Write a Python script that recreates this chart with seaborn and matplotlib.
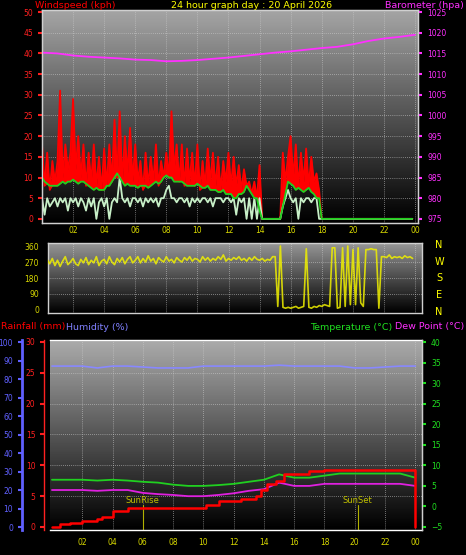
import numpy as np
import pandas as pd
import matplotlib
matplotlib.use("Agg")
import matplotlib.pyplot as plt
import seaborn as sns
from matplotlib.colors import LinearSegmentedColormap

sns.set_style("dark")
plt.rcParams['font.family'] = ['DejaVu Sans']

# ---------------- data ----------------
gust = [18,8,16,7,14,9, 14,31,10,18,12,16, 29,12,20,10,18,8, 16,9,18,8,15,7,
        17,8,18,9,24,10, 26,9,20,11,22,9, 18,9,14,7,16,8, 15,9,18,8,14,10,
        16,10,26,12,18,9, 18,8,17,9,16,8, 18,7,14,8,17,9, 16,8,15,7,14,9,
        16,8,15,8,13,7, 12,8,9,6,9,5, 13,0,0,0,0,0, 0,0,0,16,9,15,
        20,10,18,8,16,9, 17,8,15,9,11,7] + [0]*36
avg = [10,9,8.5,8,8,8, 8,8.5,9,8.5,9,9, 9.5,9,8.5,9,9,8.5, 8,7.5,7,7.5,7,7,
       7,8,8,9,10,11, 10,9,8,8.5,8,8, 8,7.5,8,8,8,7.5, 8,8.5,9,8.5,9,10,
       10.5,10,10,9,9,9, 9,8.5,8,8,8,8, 8.5,8,7.5,7.5,8,7, 7,7,6.5,6.5,7,6,
       6,6,5,5,6,6, 6.5,8,7,6,5,5, 2,0,0,0,0,0, 0,0,0,3,6,9,
       8.5,8,7,7.5,7,6.5, 7,7.5,6.5,6,5,5] + [0]*36
lull = [5,1,5,3,4,5, 3,5,4,5,2,5, 4,5,3,5,4,2, 5,3,5,0,4,5, 3,5,0,4,5,4,
        10,5,4,5,3,5, 5,4,5,3,5,4, 5,4,5,3,5,5, 7,8,5,5,4,5, 5,4,5,3,5,4,
        5,4,5,5,4,5, 3,5,5,5,4,5, 5,4,5,1,5,4, 5,0,5,0,5,0, 5,0,0,0,0,0,
        0,0,0,3,5,7, 5,4,5,0,5,4, 5,5,4,5,5,0] + [0]*36
wind_dir = [270,255,285,260,290,250, 280,245,275,300,255,270, 290,260,250,285,265,295,
            255,280,265,300,250,275, 285,260,300,270,255,290, 270,295,260,285,300,265,
            280,300,265,290,270,305, 275,290,260,295,280,270, 300,275,285,265,295,280,
            270,295,280,300,275,290, 285,270,300,280,295,275, 290,280,300,285,310,275,
            290,280,295,285,300,280, 290,275,295,280,300,285, 280,290,275,285,280,300,
            300,20,360,15,10,15, 10,15,20,10,15,20, 345,15,10,20,15,25,
            20,30,25,20,350,350, 10,15,350,20,360,30, 340,30,350,40,20,340,
            340,345,340,340,10,300, 300,295,310,290,300,295, 300,290,305,295,300,290]
hours_h = list(range(25))
pressure = [1015.2,1015,1014.5,1014.2,1014,1013.8,1013.5,1013.4,1013.1,1013.2,1013.4,
            1013.7,1014,1014.4,1014.8,1015.2,1015.5,1015.9,1016.3,1016.6,1017.2,
            1018,1018.6,1019,1019.5]
humidity = [87,87,87,86,87,87,86.5,86,86,86,87,87,87,87,87,87.5,87,87,87,87,86,86,86.5,87,87]
temperature = [6.5,6.5,6.5,6.3,6.5,6.3,6,5.8,5.3,5,5,5.2,5.5,6,6.5,7.8,7,7,7.5,8,8,8,8,8,7]
dewpoint = [4,4,4,3.8,4,4,3.3,3,2.8,2.5,2.5,2.8,3.2,3.8,4.2,5.8,5,5,5.5,5.5,5.5,5.5,5.5,5.5,5]
rain_t = [0,0.5,1.2,2,3,3.3,4,5,9.5,10.2,11,12.5,13.5,13.8,14.2,14.8,15.3,17,18,23.9,24]
rain = [0,0.4,0.7,1,1.3,1.6,2.5,3,3,3.5,4.2,4.5,5,6,7,7.5,8.5,9,9.2,9.2,0]
hour_ticks = [2,4,6,8,10,12,14,16,18,20,22,24]
hour_labels = ["02","04","06","08","10","12","14","16","18","20","22","00"]
sunrise, sunset = 6.0, 20.2

t10 = np.arange(144) / 6.0
df10 = pd.DataFrame({"t": t10, "gust": gust, "avg": avg, "lull": lull, "dir": wind_dir})
dfh = pd.DataFrame({"t": hours_h, "p": pressure, "hum": humidity, "temp": temperature, "dew": dewpoint})
dfr = pd.DataFrame({"t": rain_t, "rain": rain})

W, H = 466, 555
fig = plt.figure(figsize=(W/100, H/100), dpi=100, facecolor="black")

def add_ax(x0, y0, x1, y1):
    return fig.add_axes([x0/W, 1 - y1/H, (x1-x0)/W, (y1-y0)/H])

cmap = LinearSegmentedColormap.from_list("g", ["#000000", "#c8c8c8"])
YEL = "#d8d800"
FS = 6.8

def style(ax, xlim, ylim, top=0.85):
    ax.set_xlim(*xlim); ax.set_ylim(*ylim)
    grad = np.linspace(0, top, 100).reshape(-1, 1)
    ax.imshow(grad, cmap=cmap, vmin=0, vmax=1, origin="lower", aspect="auto",
              extent=[xlim[0], xlim[1], ylim[0], ylim[1]], zorder=0)
    ax.set_facecolor("black")
    for s in ax.spines.values():
        s.set_color("#d0d0d0"); s.set_linewidth(1)
    ax.set_xlabel(""); ax.set_ylabel("")

def vgrid(ax, yvals):
    for h in hour_ticks:
        ax.axvline(h, color="#d0d0d0", lw=0.5, ls=(0, (1, 2)), zorder=1)
    for y in yvals:
        ax.axhline(y, color="#d0d0d0", lw=0.5, ls=(0, (1, 2)), zorder=1)

# ---------- panel 1: wind speed + barometer ----------
ax1 = add_ax(42, 10, 418, 223)
style(ax1, (0, 24.2), (-1, 50.5), top=0.82)
vgrid(ax1, range(5, 50, 5))
g = np.array(gust, float); a = np.array(avg, float)
ax1.fill_between(t10, np.minimum(a, g), g, color="#ff0000", lw=0, zorder=2)
sns.lineplot(data=df10, x="t", y="gust", ax=ax1, color="#ff0000", lw=1.3, zorder=3)
sns.lineplot(data=df10, x="t", y="lull", ax=ax1, color="#c8f0c8", lw=1.3, zorder=4)
sns.lineplot(data=df10, x="t", y="avg", ax=ax1, color="#20d020", lw=1.3, zorder=5)
ax1.set_xlabel(""); ax1.set_ylabel("")
ax1.set_yticks(range(0, 51, 5))
ax1.tick_params(axis="y", colors="#ff2020", labelsize=5.5, length=3, width=1.5)
ax1.set_xticks(hour_ticks); ax1.set_xticklabels([])
ax1.tick_params(axis="x", colors="#d0d0d0", length=2)
ax1b = ax1.twinx()
ax1b.set_ylim(974, 1025.5)
sns.lineplot(data=dfh, x="t", y="p", ax=ax1b, color="#ff30ff", lw=1.3)
ax1b.set_xlim(0, 24.2)
ax1b.set_xlabel(""); ax1b.set_ylabel("")
ax1b.set_yticks(range(975, 1026, 5))
ax1b.tick_params(axis="y", colors="#ff30ff", labelsize=5.5, length=3, width=1.5)
for s in ax1b.spines.values():
    s.set_color("#d0d0d0")

fig.text(35/W, 1 - 5/H, "Windspeed (kph)", color="#ff0000", fontsize=FS, va="center")
fig.text(252/W, 1 - 5/H, "24 hour graph day : 20 April 2026", color="#ffff00", fontsize=FS, va="center", ha="center")
fig.text(464/W, 1 - 5/H, "Barometer (hpa)", color="#ff30ff", fontsize=FS, va="center", ha="right")

# ---------- panel 2: wind direction ----------
ax2 = add_ax(48, 243, 422, 313)
style(ax2, (0.39, 24.44), (-17, 377), top=0.75)
vgrid(ax2, [90, 180, 270])
sns.lineplot(data=df10, x="t", y="dir", ax=ax2, color="#f0f000", lw=1.2, alpha=0.85, zorder=3)
ax2.set_xlabel(""); ax2.set_ylabel("")
ax2.set_yticks([0, 90, 180, 270, 360])
ax2.tick_params(axis="y", colors=YEL, labelsize=5.5, length=3, width=1.5)
ax2.xaxis.tick_top()
ax2.set_xticks(hour_ticks); ax2.set_xticklabels(hour_labels)
ax2.tick_params(axis="x", colors=YEL, labelsize=5.5, length=0, pad=6)
for lbl, yp in zip(["N", "W", "S", "E", "N"], [245, 262, 278, 295, 312]):
    fig.text(439/W, 1 - yp/H, lbl, color="#ffff00", fontsize=7, ha="center", va="center")

fig.text(1/W, 1 - 327/H, "Rainfall (mm)", color="#ff0000", fontsize=FS, va="center")
fig.text(66/W, 1 - 327/H, "Humidity (%)", color="#8080ff", fontsize=FS, va="center")
fig.text(392/W, 1 - 327/H, "Temperature (°C)", color="#20e020", fontsize=FS, va="center", ha="right")
fig.text(464/W, 1 - 327/H, "Dew Point (°C)", color="#ff30ff", fontsize=FS, va="center", ha="right")

# ---------- panel 3: rain / humidity / temp / dew ----------
ax3 = add_ax(50, 340, 422, 530)
style(ax3, (-0.13, 24.44), (-0.5, 30.3), top=0.85)
vgrid(ax3, range(5, 30, 5))
ax3.set_yticks(range(0, 31, 5))
ax3.tick_params(axis="y", colors="#ff2020", labelsize=5.5, length=3, width=1.5)
ax3.spines["left"].set_position(("outward", 4))
ax3.spines["left"].set_color("#ff2020")
ax3.set_xticks(hour_ticks); ax3.set_xticklabels(hour_labels)
ax3.tick_params(axis="x", colors=YEL, labelsize=5.5, length=2)
for x, name in [(sunrise, "SunRise"), (sunset, "SunSet")]:
    ax3.plot([x, x], [-0.5, 3.5], color="#b0b000", lw=0.8, zorder=2)
    ax3.text(x, 3.6, name, color="#c0c000", fontsize=6, ha="center", va="bottom", zorder=6)

axh = ax3.twinx()
axh.set_ylim(-1.6, 101.1)
sns.lineplot(data=dfh, x="t", y="hum", ax=axh, color="#8888ff", lw=1.2)
axh.yaxis.tick_left()
axh.spines["right"].set_visible(False)
axh.spines["left"].set_position(("outward", 20))
axh.spines["left"].set_color("#6060ff"); axh.spines["left"].set_linewidth(2)
axh.set_yticks(range(0, 101, 10))
axh.tick_params(axis="y", colors="#6060ff", labelsize=5.5, length=3, width=1.5, labelleft=True, labelright=False)
axh.set_xlabel(""); axh.set_ylabel("")

axt = ax3.twinx()
axt.set_ylim(-5.73, 40.5)
sns.lineplot(data=dfh, x="t", y="temp", ax=axt, color="#20d020", lw=1.3)
sns.lineplot(data=dfh, x="t", y="dew", ax=axt, color="#e020e0", lw=1.3)
axt.set_yticks(range(-5, 41, 5))
axt.tick_params(axis="y", colors="#20e020", labelsize=5.5, length=3, width=1.5)
axt.set_xlabel(""); axt.set_ylabel("")
for s in ["left", "top", "bottom"]:
    axt.spines[s].set_visible(False)
axt.spines["right"].set_color("#d0d0d0")

axr = ax3.twinx()
axr.set_ylim(-0.5, 30.3)
axr.step(dfr["t"], dfr["rain"], where="post", color="#ff0000", lw=1.8)
axr.set_yticks([])
for s in axr.spines.values():
    s.set_visible(False)
for a_ in (axh, axt, axr):
    a_.set_xlim(-0.13, 24.44)

fig.savefig("out.png", dpi=100, facecolor="black")
